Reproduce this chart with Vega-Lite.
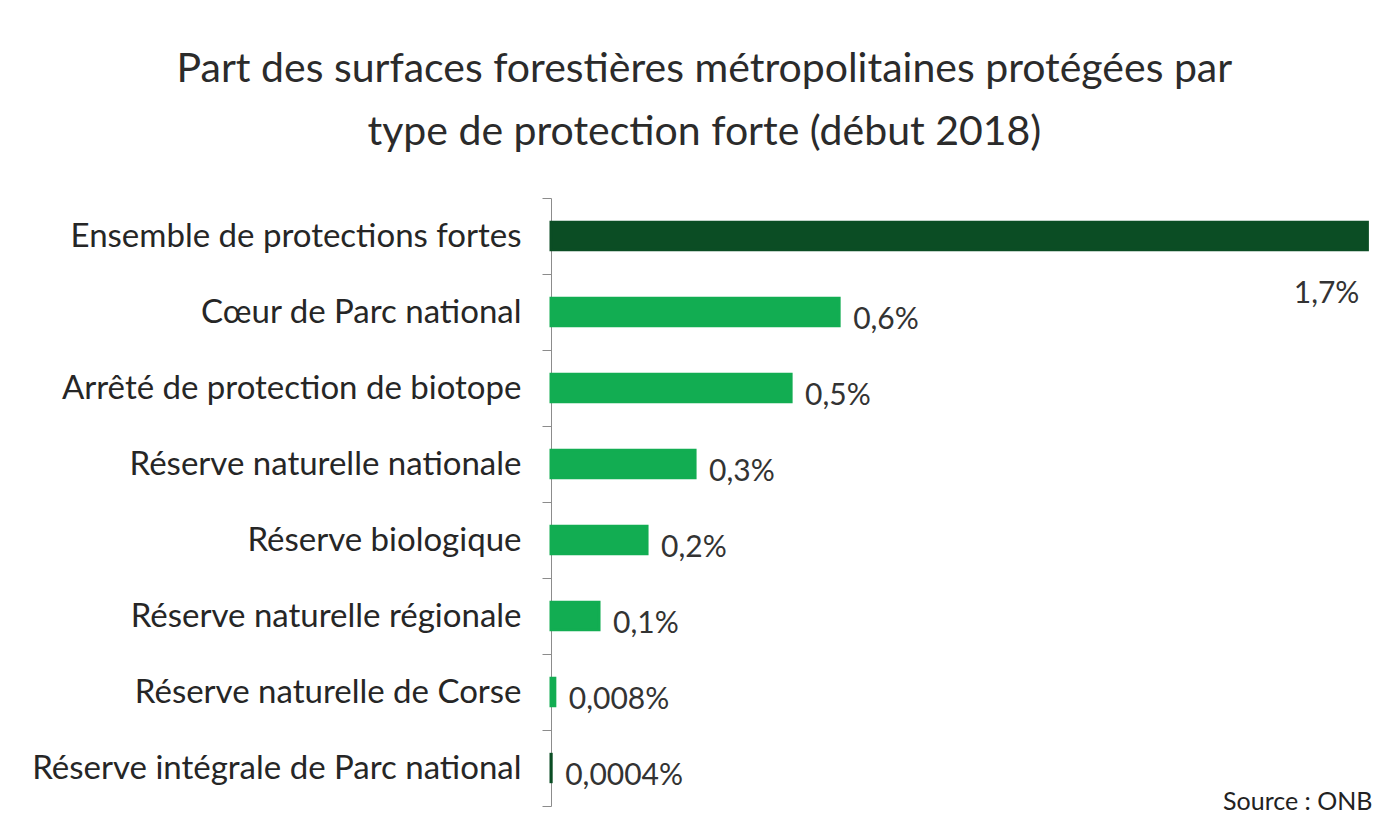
{
  "$schema": "https://vega.github.io/schema/vega-lite/v6.json",
  "autosize": "none",
  "width": 826,
  "height": 608,
  "padding": {"left": 551, "top": 198, "right": 0, "bottom": 31},
  "background": "white",
  "config": {"view": {"stroke": null}},
  "title": {
    "text": ["Part des surfaces forestières métropolitaines protégées par", "type de protection forte (début 2018)"],
    "font": "Lato",
    "fontSize": 41,
    "fontWeight": "normal",
    "color": "#2b2b2b",
    "lineHeight": 63,
    "anchor": "middle",
    "frame": "bounds",
    "offset": 28
  },
  "data": {
    "values": [
      {"categorie": "Ensemble de protections fortes", "part": 1.7, "label": "1,7%"},
      {"categorie": "Cœur de Parc national", "part": 0.6, "label": "0,6%"},
      {"categorie": "Arrêté de protection de biotope", "part": 0.5, "label": "0,5%"},
      {"categorie": "Réserve naturelle nationale", "part": 0.3, "label": "0,3%"},
      {"categorie": "Réserve biologique", "part": 0.2, "label": "0,2%"},
      {"categorie": "Réserve naturelle régionale", "part": 0.1, "label": "0,1%"},
      {"categorie": "Réserve naturelle de Corse", "part": 0.008, "label": "0,008%"},
      {"categorie": "Réserve intégrale de Parc national", "part": 0.0004, "label": "0,0004%"}
    ]
  },
  "encoding": {
    "y": {
      "field": "categorie",
      "type": "nominal",
      "sort": null,
      "scale": {"paddingInner": 0, "paddingOuter": 0},
      "axis": {
        "title": null,
        "labelFont": "Lato",
        "labelFontSize": 33,
        "labelColor": "#262626",
        "labelPadding": 21,
        "labelLimit": 700,
        "tickBand": "extent",
        "tickSize": 9,
        "tickColor": "#8c8c8c",
        "domainColor": "#8c8c8c",
        "grid": false
      }
    },
    "x": {
      "field": "part",
      "type": "quantitative",
      "scale": {"domain": [0, 1.72], "nice": false, "zero": true},
      "axis": {
        "title": "Source : ONB",
        "titleFont": "Lato",
        "titleFontSize": 25,
        "titleFontWeight": "normal",
        "titleColor": "#222222",
        "titleX": 821,
        "titleAlign": "right",
        "titleBaseline": "alphabetic",
        "titleY": 3,
        "labels": false,
        "ticks": false,
        "domain": false,
        "grid": false
      }
    }
  },
  "layer": [
    {
      "mark": {"type": "bar", "strokeWidth": 3, "height": {"band": 0.36}},
      "encoding": {
        "color": {
          "field": "categorie",
          "type": "nominal",
          "sort": null,
          "scale": {
            "domain": ["Ensemble de protections fortes", "Cœur de Parc national", "Arrêté de protection de biotope", "Réserve naturelle nationale", "Réserve biologique", "Réserve naturelle régionale", "Réserve naturelle de Corse", "Réserve intégrale de Parc national"],
            "range": ["#0b4d24", "#12ad52", "#12ad52", "#12ad52", "#12ad52", "#12ad52", "#12ad52", "#0b4d24"]
          },
          "legend": null
        },
        "stroke": {
          "field": "categorie",
          "type": "nominal",
          "sort": null,
          "scale": {
            "domain": ["Ensemble de protections fortes", "Cœur de Parc national", "Arrêté de protection de biotope", "Réserve naturelle nationale", "Réserve biologique", "Réserve naturelle régionale", "Réserve naturelle de Corse", "Réserve intégrale de Parc national"],
            "range": ["#0b4d24", "#12ad52", "#12ad52", "#12ad52", "#12ad52", "#12ad52", "#12ad52", "#0b4d24"]
          },
          "legend": null
        }
      }
    },
    {
      "transform": [{"filter": "datum.part < 1"}],
      "mark": {"type": "text", "align": "left", "baseline": "middle", "dx": 14, "dy": 8, "font": "Lato", "fontSize": 30, "color": "#333333"},
      "encoding": {"text": {"field": "label"}}
    },
    {
      "transform": [{"filter": "datum.part >= 1"}],
      "mark": {"type": "text", "align": "right", "baseline": "middle", "dx": -8, "dy": 58, "font": "Lato", "fontSize": 30, "color": "#333333"},
      "encoding": {"text": {"field": "label"}}
    }
  ]
}
